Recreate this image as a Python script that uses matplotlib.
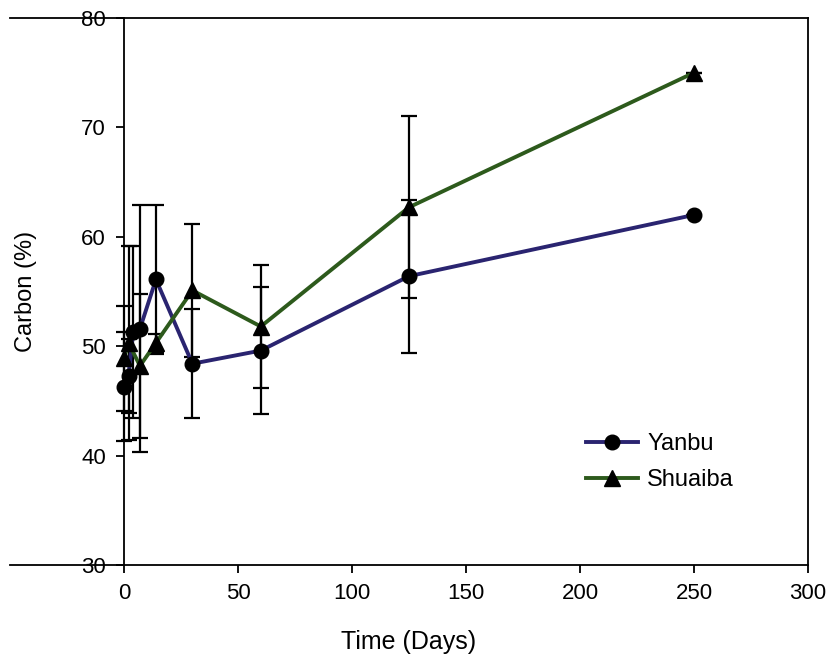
import matplotlib
matplotlib.use('Agg')
import matplotlib.pyplot as plt

# sampling times (days) and carbon content (%)
days = [0, 2, 4, 7, 14, 30, 60, 125, 250]
yanbu = [46.3, 47.3, 51.3, 51.6, 56.1, 48.4, 49.6, 56.4, 62.0]
yanbu_err = [5.0, 3.4, 7.9, 11.3, 6.8, 5.0, 5.8, 7.0, 0.0]

days_s = [0, 2, 7, 14, 30, 60, 125, 250]
shuaiba = [48.9, 50.3, 48.2, 50.3, 55.1, 51.8, 62.7, 75.0]
shuaiba_err = [4.8, 8.9, 6.6, 0.8, 6.1, 5.6, 8.3, 0.0]

xticks = [0, 50, 100, 150, 200, 250, 300]
yticks = [30, 40, 50, 60, 70, 80]

plt.rcParams['font.family'] = ['Liberation Sans', 'DejaVu Sans']

fig = plt.figure(figsize=(8.31, 6.64), dpi=100)
ax = fig.add_axes([10/831, 1-565/664, (808-10)/831, (565-18)/664])

ax.errorbar(days, yanbu, yerr=yanbu_err, fmt='none', ecolor='black',
            elinewidth=1.6, capsize=5.5, capthick=1.6, zorder=2)
ax.errorbar(days_s, shuaiba, yerr=shuaiba_err, fmt='none', ecolor='black',
            elinewidth=1.6, capsize=5.5, capthick=1.6, zorder=2)

ax.plot(days, yanbu, color='#2a2470', lw=2.8, marker='o', ms=10.5,
        mfc='black', mec='black', label='Yanbu', zorder=3)
ax.plot(days_s, shuaiba, color='#2d5a1c', lw=2.8, marker='^', ms=11,
        mfc='black', mec='black', label='Shuaiba', zorder=3)

ax.set_xlim(-50, 300)
ax.set_ylim(30, 80)
ax.set_xticks(xticks)
ax.set_yticks(yticks)

ax.spines['left'].set_position(('data', 0))
for s in ax.spines.values():
    s.set_linewidth(1.3)
ax.tick_params(axis='both', direction='out', length=6, width=1.3,
               labelsize=16, pad=7, top=False, right=False)

ax.set_xlabel('Time (Days)', fontsize=18, labelpad=19)
ax.set_ylabel('Carbon (%)', fontsize=17, labelpad=32)

ax.legend(loc='upper left', bbox_to_anchor=(586/831, 1-433/664),
          bbox_transform=fig.transFigure, frameon=False, fontsize=17,
          handlelength=2.2, handletextpad=0.4, labelspacing=0.6,
          borderpad=0, borderaxespad=0)

fig.savefig('out.png', dpi=100)
